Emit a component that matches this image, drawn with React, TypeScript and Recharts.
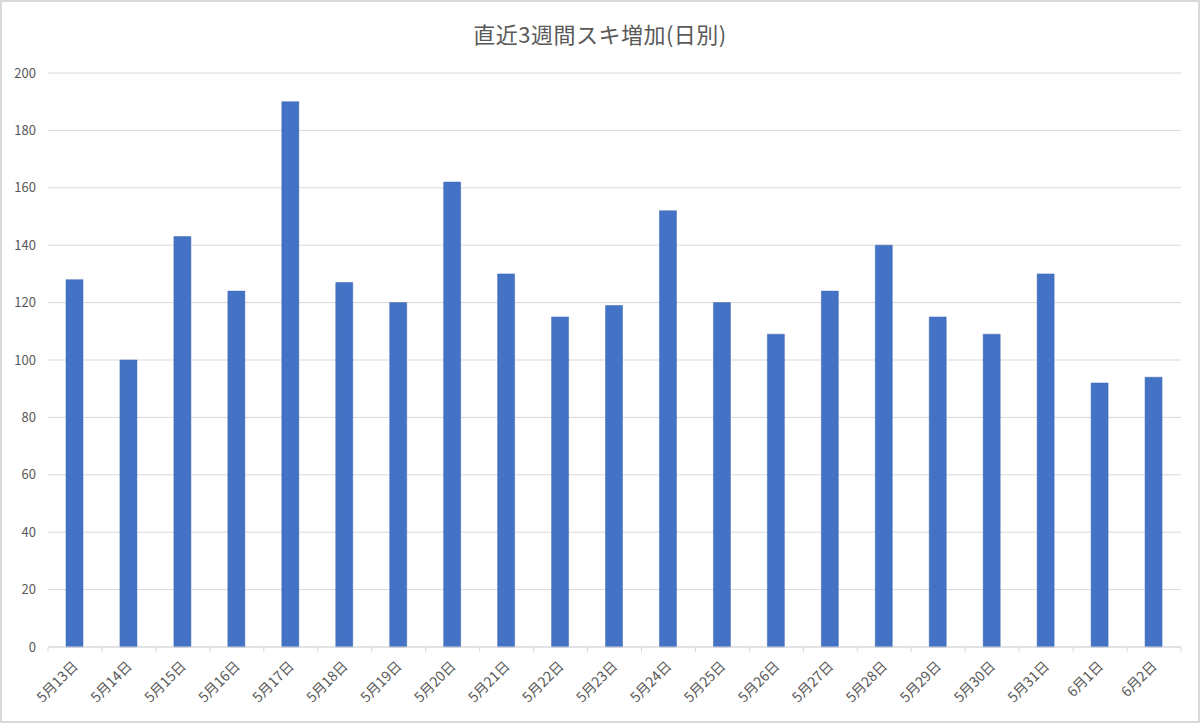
import React from 'react';
import { BarChart, Bar, XAxis, YAxis, CartesianGrid } from 'recharts';

const categories = ['5月13日','5月14日','5月15日','5月16日','5月17日','5月18日','5月19日','5月20日','5月21日','5月22日','5月23日','5月24日','5月25日','5月26日','5月27日','5月28日','5月29日','5月30日','5月31日','6月1日','6月2日'];
const values = [128,100,143,124,190,127,120,162,130,115,119,152,120,109,124,140,115,109,130,92,94];
const yTicks = [0,20,40,60,80,100,120,140,160,180,200];

const data = categories.map((c, i) => ({ day: c, v: values[i] }));

const W = 1200;
const H = 723;
const M = { top: 73, right: 19, left: 0, bottom: 0 };
const Y_W = 48;
const X_H = 76;
const PLOT_W = W - M.left - M.right - Y_W;
const BAND = PLOT_W / categories.length;
const FONT = '"Noto Sans CJK JP", "Noto Sans", sans-serif';

const XTick = (props: any) => {
  const { x, y, payload, index } = props;
  const left = x - BAND / 2;
  const tx = x + 4;
  const ty = y + 20;
  return (
    <g>
      <line x1={left} x2={left} y1={y} y2={y + 5} stroke="#d9d9d9" strokeWidth={1} />
      {index === categories.length - 1 && (
        <line x1={x + BAND / 2} x2={x + BAND / 2} y1={y} y2={y + 5} stroke="#d9d9d9" strokeWidth={1} />
      )}
      <text
        x={tx}
        y={ty}
        textAnchor="end"
        fill="#595959"
        fontSize={14}
        fontFamily={FONT}
        transform={`rotate(-45, ${tx}, ${ty})`}
      >
        {payload.value}
      </text>
    </g>
  );
};

export default function App() {
  return (
    <div style={{ position: 'absolute', left: 0, top: 0, width: W, height: H, background: '#fff', fontFamily: FONT }}>
      <div
        style={{
          position: 'absolute',
          left: 0,
          top: 33,
          width: W,
          textAlign: 'center',
          fontSize: 22,
          letterSpacing: 0.5,
          color: '#595959',
          lineHeight: '1',
          transform: 'translateY(-50%)',
        }}
      >
        直近3週間スキ増加(日別)
      </div>
      <div style={{ position: 'absolute', left: 0, top: 0 }}>
        <BarChart width={W} height={H} data={data} margin={M} barSize={17}>
          <CartesianGrid vertical={false} stroke="#d9d9d9" />
          <XAxis
            dataKey="day"
            height={X_H}
            axisLine={{ stroke: '#d9d9d9' }}
            tickLine={false}
            tickSize={0}
            tickMargin={0}
            interval={0}
            tick={<XTick />}
          />
          <YAxis
            width={Y_W}
            domain={[0, 200]}
            ticks={yTicks}
            axisLine={false}
            tickLine={false}
            tickMargin={6}
            tick={{ fill: '#595959', fontSize: 13, fontFamily: FONT }}
          />
          <Bar dataKey="v" fill="#4472C4" stroke="#3c68b5" strokeWidth={0.5} isAnimationActive={false} />
        </BarChart>
      </div>
      <div
        style={{
          position: 'absolute',
          left: 0,
          top: 0,
          width: W,
          height: H,
          boxSizing: 'border-box',
          border: '2px solid #d9d9d9',
          pointerEvents: 'none',
        }}
      />
    </div>
  );
}
